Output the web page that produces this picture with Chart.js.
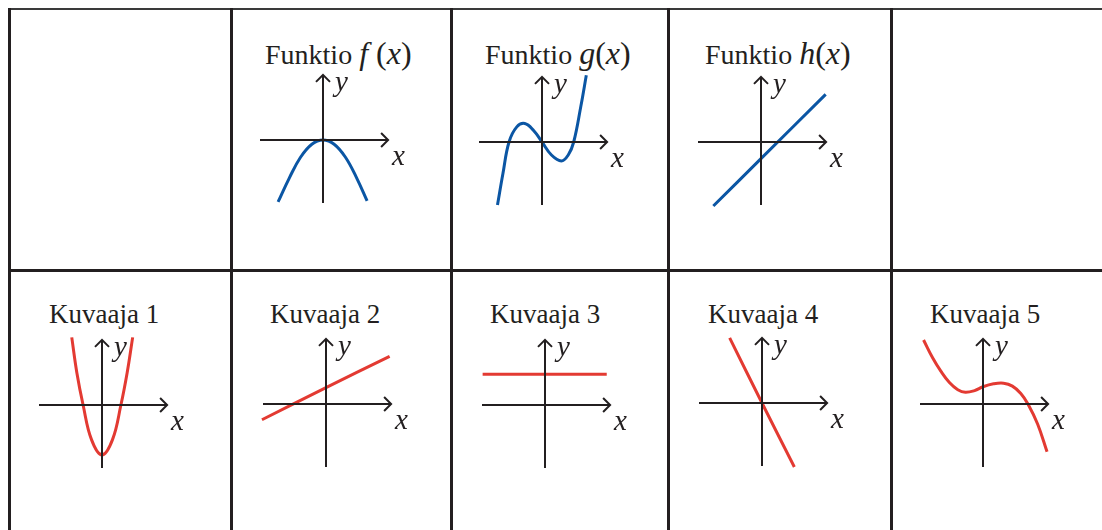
<!DOCTYPE html>
<html>
<head>
<meta charset="utf-8">
<script src="https://cdn.jsdelivr.net/npm/chart.js@4.4.1/dist/chart.umd.min.js"></script>
<style>
  html, body { margin: 0; padding: 0; background: #fff; }
  body { width: 1102px; height: 530px; position: relative; overflow: hidden;
         font-family: "Liberation Serif", "DejaVu Serif", serif; color: #231f20; }
  .rule { position: absolute; background: #231f20; }
  .title { position: absolute; font-size: 28px; line-height: 28px; white-space: nowrap; }
  .title.k { font-size: 27px; }
  .title .m { font-size: 32px; }
  canvas { position: absolute; }
</style>
</head>
<body>
<!-- table rules -->
<div class="rule" style="left:8px;top:8px;width:1094px;height:2px;background:#3a3a3a"></div>
<div class="rule" style="left:8px;top:269px;width:1094px;height:3px"></div>
<div class="rule" style="left:8px;top:8px;width:3px;height:522px"></div>
<div class="rule" style="left:230px;top:8px;width:3px;height:522px"></div>
<div class="rule" style="left:450px;top:8px;width:3px;height:522px"></div>
<div class="rule" style="left:667px;top:8px;width:3px;height:522px"></div>
<div class="rule" style="left:890px;top:8px;width:3px;height:522px"></div>

<!-- titles -->
<div class="title" style="left:265px;top:39px">Funktio <span class="m"><i>f</i>&nbsp;(<i>x</i>)</span></div>
<div class="title" style="left:485px;top:39px">Funktio <span class="m"><i>g</i>(<i>x</i>)</span></div>
<div class="title" style="left:705px;top:39px">Funktio <span class="m"><i>h</i>(<i>x</i>)</span></div>
<div class="title k" style="left:49px;top:300px">Kuvaaja 1</div>
<div class="title k" style="left:270px;top:300px">Kuvaaja 2</div>
<div class="title k" style="left:490px;top:300px">Kuvaaja 3</div>
<div class="title k" style="left:708px;top:300px">Kuvaaja 4</div>
<div class="title k" style="left:930px;top:300px">Kuvaaja 5</div>

<canvas id="c-f" width="190" height="190"></canvas>
<canvas id="c-g" width="190" height="190"></canvas>
<canvas id="c-h" width="190" height="190"></canvas>
<canvas id="c-k1" width="190" height="190"></canvas>
<canvas id="c-k2" width="190" height="190"></canvas>
<canvas id="c-k3" width="190" height="190"></canvas>
<canvas id="c-k4" width="190" height="190"></canvas>
<canvas id="c-k5" width="190" height="190"></canvas>

<script>
// --- data (axis units) ---
// Funktio f(x): downward parabola
const fX = [-2.14, -1.6, -1.07, -0.53, 0, 0.53, 1.07, 1.6, 2.1];
const fY = [-2.95, -1.8, -0.82, -0.2, 0, -0.2, -0.82, -1.8, -2.9];
// Funktio g(x): cubic
const gX = [-2.12, -1.86, -1.57, -1.2, -0.82, -0.4, 0, 0.45, 0.92, 1.25, 1.51, 1.85, 2.11];
const gY = [-3.0, -1.5, 0, 0.72, 0.88, 0.55, 0, -0.62, -0.9, -0.62, 0, 1.7, 3.18];
// Funktio h(x): rising line
const hX = [-2.27, 0, 3.08];
const hY = [-3.05, -0.79, 2.27];
// Kuvaaja 1: narrow upward parabola
const k1X = [-1.44, -1.2, -0.9, -0.5, 0, 0.5, 0.9, 1.2, 1.46];
const k1Y = [3.22, 1.55, 0, -1.65, -2.38, -1.65, 0, 1.55, 3.22];
// Kuvaaja 2: gentle rising line
const k2X = [-3.05, 0, 3.03];
const k2Y = [-0.75, 0.78, 2.27];
// Kuvaaja 3: constant
const k3X = [-2.97, 2.94];
const k3Y = [1.46, 1.46];
// Kuvaaja 4: steep falling line
const k4X = [-1.54, 0, 1.54];
const k4Y = [3.1, 0, -3.05];
// Kuvaaja 5: falling cubic
const k5X = [-2.83, -2.4, -2.0, -1.6, -1.2, -0.84, -0.4, 0, 0.5, 0.98, 1.4, 1.8, 2.14, 2.6, 3.05];
const k5Y = [3.05, 2.2, 1.55, 1.02, 0.68, 0.56, 0.64, 0.82, 0.96, 0.99, 0.85, 0.5, 0, -0.95, -2.27];

const BLUE = '#0b56a4';
const RED = '#e33a32';
const INK = '#231f20';
const UNIT = 21;   // px per axis unit
const HALF = 95;   // canvas half size in px

// axes with arrow heads + x / y labels, drawn from the chart's scales
const axesArrows = {
  id: 'axesArrows',
  afterDatasetsDraw(chart, args, opts) {
    const { ctx, scales: { x, y } } = chart;
    const x0 = x.getPixelForValue(0), y0 = y.getPixelForValue(0);
    const xl = x.getPixelForValue(opts.xMin), xr = x.getPixelForValue(opts.xMax);
    const yb = y.getPixelForValue(opts.yMin), yt = y.getPixelForValue(opts.yMax);
    ctx.save();
    ctx.strokeStyle = INK;
    ctx.lineWidth = 2;
    ctx.beginPath();
    ctx.moveTo(xl, y0); ctx.lineTo(xr, y0);
    ctx.moveTo(x0, yb); ctx.lineTo(x0, yt);
    ctx.stroke();
    const a = 7;
    ctx.beginPath();
    ctx.moveTo(xr - a, y0 - a); ctx.lineTo(xr, y0); ctx.lineTo(xr - a, y0 + a);
    ctx.moveTo(x0 - a, yt + a); ctx.lineTo(x0, yt); ctx.lineTo(x0 + a, yt + a);
    ctx.stroke();
    ctx.fillStyle = INK;
    ctx.font = 'italic 29px "Liberation Serif"';
    ctx.fillText('x', xr + 4, y0 + 25);
    ctx.fillText('y', x0 + 12, yt + 16);
    ctx.restore();
  }
};

const panels = [
  { id: 'c-f',  xs: fX,  ys: fY,  color: BLUE, ox: 323, oy: 140 },
  { id: 'c-g',  xs: gX,  ys: gY,  color: BLUE, ox: 542, oy: 142 },
  { id: 'c-h',  xs: hX,  ys: hY,  color: BLUE, ox: 761, oy: 142 },
  { id: 'c-k1', xs: k1X, ys: k1Y, color: RED,  ox: 102, oy: 405 },
  { id: 'c-k2', xs: k2X, ys: k2Y, color: RED,  ox: 326, oy: 404 },
  { id: 'c-k3', xs: k3X, ys: k3Y, color: RED,  ox: 545, oy: 405 },
  { id: 'c-k4', xs: k4X, ys: k4Y, color: RED,  ox: 762, oy: 403 },
  { id: 'c-k5', xs: k5X, ys: k5Y, color: RED,  ox: 983, oy: 404 }
];

const lim = HALF / UNIT;

panels.forEach(p => {
  const el = document.getElementById(p.id);
  el.style.left = (p.ox - HALF) + 'px';
  el.style.top = (p.oy - HALF) + 'px';
  new Chart(el.getContext('2d'), {
    type: 'scatter',
    data: {
      datasets: [{
        data: p.xs.map((v, i) => ({ x: v, y: p.ys[i] })),
        showLine: true,
        borderColor: p.color,
        borderWidth: 3,
        pointRadius: 0,
        fill: false,
        tension: 0.4
      }]
    },
    options: {
      responsive: false,
      animation: false,
      events: [],
      layout: { padding: 0 },
      scales: {
        x: { type: 'linear', min: -lim, max: lim, display: false },
        y: { type: 'linear', min: -lim, max: lim, display: false }
      },
      plugins: {
        legend: { display: false },
        tooltip: { enabled: false },
        axesArrows: { xMin: -3.0, xMax: 3.1, yMin: -3.0, yMax: 3.1 }
      }
    },
    plugins: [axesArrows]
  });
});
</script>
</body>
</html>
